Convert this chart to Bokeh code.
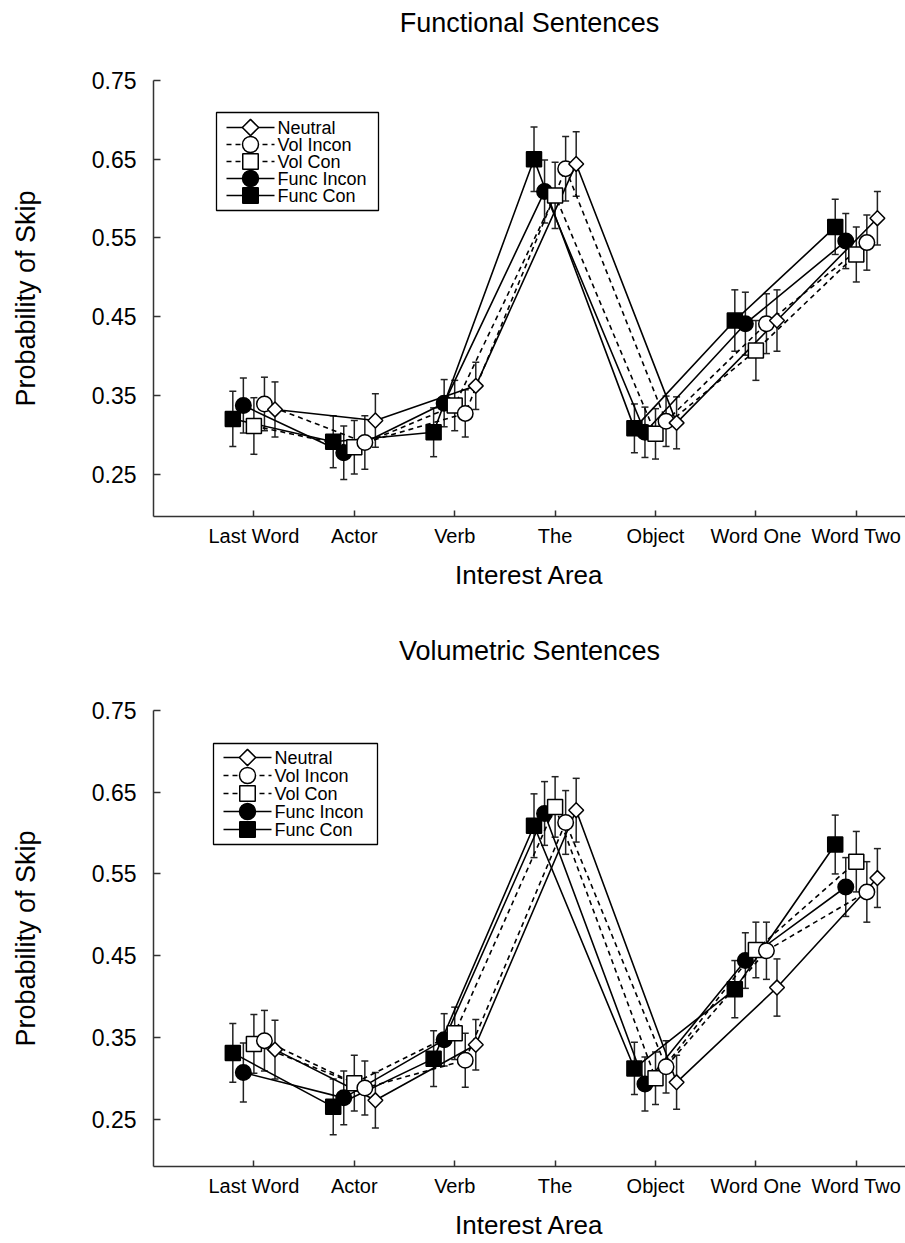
import math
from bokeh.plotting import figure
from bokeh.models import (ColumnDataSource, Range1d, FixedTicker, Whisker, TeeHead, LinearAxis)
from bokeh.core.properties import value
from bokeh.layouts import column
from bokeh.embed import file_html
from bokeh.resources import INLINE

# ---------------- data ----------------
categories = ["Last Word", "Actor", "Verb", "The", "Object", "Word One", "Word Two"]
cat_pos = [1, 2, 3, 4, 5, 6, 7]
y_ticks = [0.25, 0.35, 0.45, 0.55, 0.65, 0.75]
y_tick_labels = ["0.25", "0.35", "0.45", "0.55", "0.65", "0.75"]
series_names = ["Neutral", "Vol Incon", "Vol Con", "Func Incon", "Func Con"]

# Functional sentences (top panel)
func_neutral = [0.332, 0.318, 0.362, 0.644, 0.315, 0.445, 0.575]
func_vol_incon = [0.339, 0.290, 0.327, 0.638, 0.317, 0.441, 0.544]
func_vol_con = [0.311, 0.284, 0.337, 0.604, 0.301, 0.407, 0.529]
func_func_incon = [0.337, 0.277, 0.340, 0.609, 0.303, 0.441, 0.546]
func_func_con = [0.320, 0.291, 0.303, 0.650, 0.308, 0.445, 0.564]

func_neutral_err = [0.035, 0.034, 0.030, 0.041, 0.033, 0.039, 0.034]
func_vol_incon_err = [0.034, 0.034, 0.030, 0.041, 0.032, 0.038, 0.035]
func_vol_con_err = [0.036, 0.034, 0.032, 0.042, 0.032, 0.038, 0.035]
func_func_incon_err = [0.035, 0.034, 0.030, 0.040, 0.032, 0.040, 0.035]
func_func_con_err = [0.035, 0.033, 0.031, 0.041, 0.031, 0.039, 0.035]

# Volumetric sentences (bottom panel)
vol_neutral = [0.335, 0.273, 0.341, 0.628, 0.295, 0.411, 0.545]
vol_vol_incon = [0.346, 0.288, 0.322, 0.613, 0.314, 0.456, 0.528]
vol_vol_con = [0.342, 0.294, 0.355, 0.632, 0.300, 0.457, 0.565]
vol_func_incon = [0.307, 0.276, 0.347, 0.624, 0.293, 0.444, 0.534]
vol_func_con = [0.331, 0.265, 0.324, 0.609, 0.312, 0.409, 0.586]

vol_neutral_err = [0.036, 0.034, 0.031, 0.039, 0.033, 0.035, 0.036]
vol_vol_incon_err = [0.037, 0.033, 0.033, 0.039, 0.032, 0.035, 0.037]
vol_vol_con_err = [0.036, 0.034, 0.032, 0.037, 0.032, 0.034, 0.037]
vol_func_incon_err = [0.036, 0.033, 0.032, 0.039, 0.033, 0.034, 0.036]
vol_func_con_err = [0.036, 0.034, 0.034, 0.039, 0.032, 0.035, 0.036]

# ---------------- styles ----------------
FONT = "Liberation Sans"
styles = {
    "Neutral":    dict(offset=0.21,  dash="solid", marker="square", angle=math.pi / 4, size=10.5, fill="white", leg_size=11.5),
    "Vol Incon":  dict(offset=0.105, dash="5 4",   marker="circle", angle=0.0, size=15.5, fill="white", leg_size=16),
    "Vol Con":    dict(offset=0.0,   dash="5 4",   marker="square", angle=0.0, size=15, fill="white", leg_size=15.5),
    "Func Incon": dict(offset=-0.105, dash="solid", marker="circle", angle=0.0, size=15.5, fill="black", leg_size=16),
    "Func Con":   dict(offset=-0.21, dash="solid", marker="square", angle=0.0, size=15, fill="black", leg_size=15.5),
}
FRAME_W = 752


def make_chart(title, values, errors, height, border_top, border_bottom, y_start,
               title_standoff, leg):
    frame_h = height - border_top - border_bottom
    p = figure(width=905, height=height, output_backend="svg", toolbar_location=None,
               x_range=Range1d(0, 7.49), y_range=Range1d(y_start, 0.75),
               min_border_left=153, min_border_right=0,
               min_border_top=border_top, min_border_bottom=border_bottom)
    p.outline_line_color = None
    p.xgrid.visible = False
    p.ygrid.visible = False
    p.background_fill_color = "white"
    p.border_fill_color = "white"
    # pixel-space ranges for the legend box (frame-relative, y measured from top)
    p.extra_x_ranges = {"lx": Range1d(0, FRAME_W)}
    p.extra_y_ranges = {"ly": Range1d(frame_h, 0)}

    xa = p.xaxis[0]
    xa.ticker = FixedTicker(ticks=cat_pos)
    xa.major_label_overrides = {c: lab for c, lab in zip(cat_pos, categories)}
    xa.minor_tick_line_color = None
    xa.major_tick_in = 6
    xa.major_tick_out = 0
    xa.axis_line_color = "#333333"
    xa.major_tick_line_color = "#333333"
    xa.axis_line_width = 1.5
    xa.major_tick_line_width = 1.5
    xa.major_label_text_font = FONT
    xa.major_label_text_font_size = "20px"
    xa.major_label_text_color = "black"
    xa.major_label_standoff = 8
    xa.axis_label = "Interest Area"
    xa.axis_label_text_font = FONT
    xa.axis_label_text_font_size = "26px"
    xa.axis_label_text_font_style = "normal"
    xa.axis_label_text_color = "black"
    xa.axis_label_standoff = 10

    ya = p.yaxis[0]
    ya.ticker = FixedTicker(ticks=y_ticks)
    ya.major_label_overrides = {t: lab for t, lab in zip(y_ticks, y_tick_labels)}
    ya.minor_tick_line_color = None
    ya.major_tick_in = 7
    ya.major_tick_out = 0
    ya.axis_line_color = "#333333"
    ya.major_tick_line_color = "#333333"
    ya.axis_line_width = 1.5
    ya.major_tick_line_width = 1.5
    ya.major_label_text_font = FONT
    ya.major_label_text_font_size = "23px"
    ya.major_label_text_color = "black"
    ya.major_label_standoff = 17
    ya.axis_label = "Probability of Skip"
    ya.axis_label_text_font = FONT
    ya.axis_label_text_font_size = "27px"
    ya.axis_label_text_font_style = "normal"
    ya.axis_label_text_color = "black"
    ya.axis_label_standoff = 48

    # chart title, carried by a tick-less axis above the frame
    top_axis = LinearAxis(ticker=FixedTicker(ticks=[]), axis_line_color=None,
                          major_tick_line_color=None, minor_tick_line_color=None,
                          major_tick_out=0, major_tick_in=0, major_label_standoff=0,
                          axis_label=title, axis_label_text_font=FONT,
                          axis_label_text_font_size="27px", axis_label_text_font_style="normal",
                          axis_label_text_color="black", axis_label_standoff=title_standoff)
    p.add_layout(top_axis, "above")

    sources = {}
    for name in series_names:
        st = styles[name]
        vals = values[name]
        err = errors[name]
        xs = [c + st["offset"] for c in cat_pos]
        src = ColumnDataSource(dict(
            x=xs, y=vals,
            upper=[v + e for v, e in zip(vals, err)],
            lower=[v - e for v, e in zip(vals, err)],
        ))
        sources[name] = src
        w = Whisker(source=src, base="x", upper="upper", lower="lower",
                    line_color="#222222", line_width=1.5, level="underlay",
                    upper_head=TeeHead(size=7, line_color="#222222", line_width=1.5),
                    lower_head=TeeHead(size=7, line_color="#222222", line_width=1.5))
        p.add_layout(w)

    for name in series_names:
        st = styles[name]
        p.line("x", "y", source=sources[name], line_color="black",
               line_width=1.6, line_dash=st["dash"])
    for name in ["Func Con", "Func Incon", "Vol Con", "Vol Incon", "Neutral"]:
        st = styles[name]
        p.scatter("x", "y", source=sources[name], marker=st["marker"],
                  angle=st["angle"], size=st["size"],
                  fill_color=st["fill"], line_color="black", line_width=1.5)

    # legend (drawn in frame pixel space)
    L, R, T, B = leg["left"], leg["right"], leg["top"], leg["bottom"]
    p.quad(left=[L], right=[R], top=[T], bottom=[B], fill_color="white",
           line_color="black", line_width=1.3, x_range_name="lx", y_range_name="ly")
    label_ys = []
    for i, name in enumerate(series_names):
        st = styles[name]
        yy = leg["row0"] + i * leg["step"]
        label_ys.append(yy)
        p.line([leg["line0"], leg["line1"]], [yy, yy], line_color="black", line_width=1.5,
               line_dash=st["dash"], x_range_name="lx", y_range_name="ly")
        p.scatter([(leg["line0"] + leg["line1"]) / 2], [yy], marker=st["marker"],
                  angle=st["angle"], size=st["leg_size"], fill_color=st["fill"],
                  line_color="black", line_width=1.5, x_range_name="lx", y_range_name="ly")
    p.text(x=[leg["text_x"]] * len(series_names), y=label_ys, text=series_names,
           text_font=value(FONT), text_font_size="18px", text_color="black",
           text_baseline="middle", text_align="left", x_range_name="lx", y_range_name="ly")
    return p


func_values = dict(zip(series_names, [func_neutral, func_vol_incon, func_vol_con, func_func_incon, func_func_con]))
func_errors = dict(zip(series_names, [func_neutral_err, func_vol_incon_err, func_vol_con_err, func_func_incon_err, func_func_con_err]))
vol_values = dict(zip(series_names, [vol_neutral, vol_vol_incon, vol_vol_con, vol_func_incon, vol_func_con]))
vol_errors = dict(zip(series_names, [vol_neutral_err, vol_vol_incon_err, vol_vol_con_err, vol_func_incon_err, vol_func_con_err]))

leg_top = dict(left=63, right=225, top=32, bottom=130, row0=47, step=17, line0=73, line1=121, text_x=124)
leg_bot = dict(left=60, right=224, top=33, bottom=134, row0=47, step=18, line0=70, line1=118, text_x=121)

p1 = make_chart("Functional Sentences", func_values, func_errors, height=625,
                border_top=80, border_bottom=109, y_start=0.196,
                title_standoff=43, leg=leg_top)
p2 = make_chart("Volumetric Sentences", vol_values, vol_errors, height=618,
                border_top=85, border_bottom=77, y_start=0.192,
                title_standoff=45, leg=leg_bot)

p = column(p1, p2)
open("out.html", "w").write(file_html(p, INLINE))
